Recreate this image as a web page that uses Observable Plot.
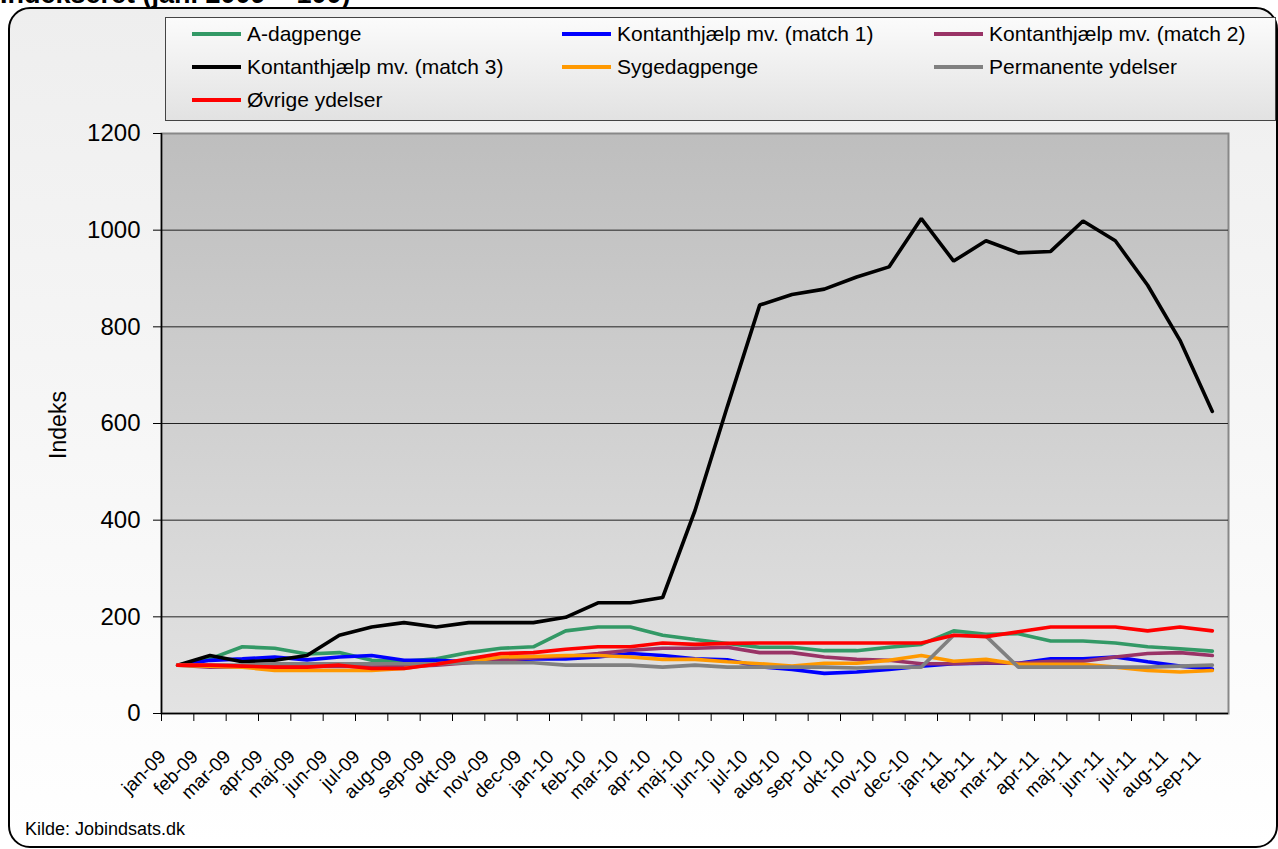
<!DOCTYPE html>
<html><head><meta charset="utf-8">
<script src="https://cdn.jsdelivr.net/npm/d3@7"></script>
<script src="https://cdn.jsdelivr.net/npm/@observablehq/plot@0.6"></script>
<style>
html,body{margin:0;padding:0;background:#fff;}
body{width:1278px;height:849px;overflow:hidden;position:relative;font-family:"Liberation Sans",Arial,sans-serif;color:#000;}
#title{position:absolute;left:0;top:-19px;font-size:27px;font-weight:bold;white-space:nowrap;line-height:27px;z-index:5;}
#frame{position:absolute;left:8px;top:7px;width:1270px;height:841px;box-sizing:border-box;border:2px solid #000;border-radius:22px;background:linear-gradient(#eeeeee,#ffffff);}
#legend{position:absolute;left:165px;top:17px;width:1111px;height:104px;box-sizing:border-box;border:1px solid #444;background:linear-gradient(#fbfbfb,#e2e2e2);z-index:2;}
.li{position:absolute;height:26px;display:flex;align-items:center;font-size:21px;white-space:nowrap;}
.li i{display:inline-block;width:49px;height:4px;margin-right:6px;}
#chart{position:absolute;left:0;top:120px;z-index:3;}
#ylabel{position:absolute;left:58px;top:425px;transform:translate(-50%,-50%) rotate(-90deg);font-size:23px;white-space:nowrap;z-index:4;}
#source{position:absolute;left:25px;top:819px;font-size:18px;white-space:nowrap;z-index:4;}
</style>
</head><body>
<div id="title">Indekseret (jan. 2009 = 100)</div>
<div id="frame"></div>
<div id="legend"></div>
<div id="chart"></div>
<div id="ylabel">Indeks</div>
<div id="source">Kilde: Jobindsats.dk</div>
<script>
const months = ["jan-09","feb-09","mar-09","apr-09","maj-09","jun-09","jul-09","aug-09","sep-09","okt-09","nov-09","dec-09",
  "jan-10","feb-10","mar-10","apr-10","maj-10","jun-10","jul-10","aug-10","sep-10","okt-10","nov-10","dec-10",
  "jan-11","feb-11","mar-11","apr-11","maj-11","jun-11","jul-11","aug-11","sep-11"];

const aDagpenge = [100,113,138,135,123,126,110,108,113,126,135,138, 171,179,179,162,153,145,137,137,130,130,137,143, 171,164,165,150,150,146,138,134,129];
const match1 = [100,110,113,117,111,117,120,110,110,107,111,113, 113,117,124,120,113,111,97,91,83,86,91,98, 103,104,104,113,113,117,107,98,92];
const match2 = [100,96,97,97,97,98,96,97,100,105,110,115, 118,124,131,135,135,137,126,126,117,112,110,103, 103,105,104,108,108,117,124,126,120];
const match3 = [100,120,107,110,120,162,179,188,179,188,188,188, 199,229,229,240,420,635,845,867,878,903,924,1024, 936,978,953,956,1019,978,886,772,625];
const syge = [100,98,96,89,89,89,89,93,103,107,117,118, 120,120,117,112,112,107,103,98,104,104,110,120, 108,112,102,102,102,96,89,86,89];
const permanente = [100,100,100,103,103,103,103,103,103,105,105,105, 100,100,100,96,100,96,96,96,96,94,96,96, 162,160,96,96,96,96,96,98,100];
const oevrige = [100,100,98,96,96,100,93,93,102,113,124,126, 133,138,138,146,143,145,146,146,146,146,146,146, 162,159,169,179,179,179,171,179,171];

const seriesNames = ["A-dagpenge","Kontanthjælp mv. (match 1)","Kontanthjælp mv. (match 2)","Kontanthjælp mv. (match 3)","Sygedagpenge","Permanente ydelser","Øvrige ydelser"];
const seriesColors = ["#339966","#0000FF","#993366","#000000","#FF9900","#808080","#FF0000"];
const seriesValues = [aDagpenge, match1, match2, match3, syge, permanente, oevrige];
const yTicks = [0,200,400,600,800,1000,1200];
const gridValues = [200,400,600,800,1000];

// legend
const legendPos = [[26,3],[396,3],[768,3],[26,36],[396,36],[768,36],[26,69]];
const legend = document.getElementById("legend");
seriesNames.forEach((n,k) => {
  const d = document.createElement("div");
  d.className = "li";
  d.style.left = legendPos[k][0] + "px";
  d.style.top = legendPos[k][1] + "px";
  const i = document.createElement("i");
  i.style.background = seriesColors[k];
  d.appendChild(i);
  d.appendChild(document.createTextNode(n));
  legend.appendChild(d);
});

const idx = d3.range(months.length);
const marks = [
  Plot.frame({fill: "url(#pbg)", stroke: "#888", strokeWidth: 2}),
  Plot.ruleY(gridValues, {stroke: "#222", strokeWidth: 1})
];
seriesValues.forEach((vals, k) => {
  marks.push(Plot.lineY(vals, {x: (d, i) => i, y: d => d, stroke: seriesColors[k], strokeWidth: 3.6, strokeLinejoin: "miter"}));
});
marks.push(
  Plot.ruleX([-0.5], {stroke: "#000", strokeWidth: 1.5}),
  Plot.ruleY([0], {stroke: "#000", strokeWidth: 1.5}),
  Plot.axisY({ticks: yTicks, tickSize: 8, tickPadding: 13, fontSize: 24, label: null, tickFormat: d => String(d)}),
  Plot.axisX({ticks: idx.map(i => i - 0.5), tickSize: 8, tickFormat: () => "", label: null}),
  Plot.axisX({ticks: idx, tickSize: 0, tickPadding: 40, tickRotate: -45, dx: -15, fontSize: 19, tickFormat: i => months[i], label: null})
);

const svg = Plot.plot({
  width: 1278, height: 729,
  marginLeft: 161, marginRight: 50, marginTop: 13, marginBottom: 136,
  x: {domain: [-0.5, months.length - 0.5]},
  y: {domain: [0, 1200]},
  style: {fontFamily: "'Liberation Sans', Arial, sans-serif", background: "transparent", overflow: "visible", color: "#000"},
  marks
});
const ns = "http://www.w3.org/2000/svg";
const defs = document.createElementNS(ns, "defs");
defs.innerHTML = '<linearGradient id="pbg" x1="0" y1="0" x2="0" y2="1"><stop offset="0" stop-color="#bebebe"/><stop offset="1" stop-color="#e3e3e3"/></linearGradient>';
svg.insertBefore(defs, svg.firstChild);
document.getElementById("chart").appendChild(svg);
</script>
</body></html>
